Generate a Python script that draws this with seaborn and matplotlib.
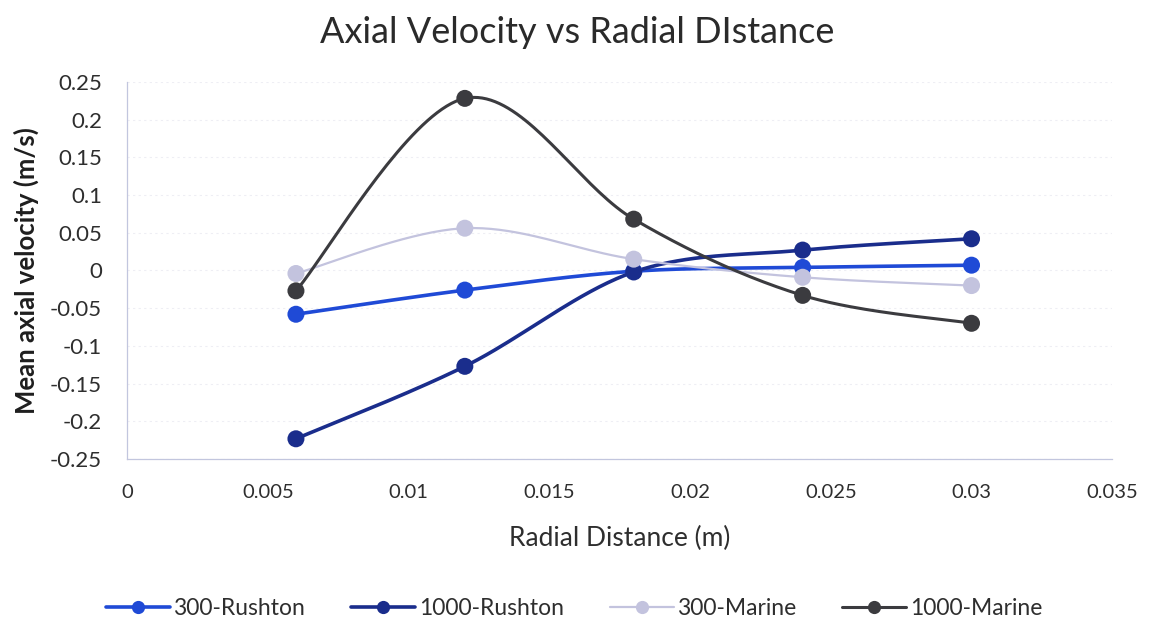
import numpy as np
import pandas as pd
import matplotlib
matplotlib.use("Agg")
import matplotlib.pyplot as plt
import seaborn as sns

# Radial positions (m) and mean axial velocities (m/s) per configuration
radial_distance = [0.006, 0.012, 0.018, 0.024, 0.030]
rushton_300 = [-0.058, -0.026, -0.001, 0.004, 0.007]
rushton_1000 = [-0.223, -0.127, -0.002, 0.027, 0.042]
marine_300 = [-0.004, 0.056, 0.015, -0.009, -0.020]
marine_1000 = [-0.027, 0.228, 0.068, -0.033, -0.070]

series_names = ["300-Rushton", "1000-Rushton", "300-Marine", "1000-Marine"]
series_values = [rushton_300, rushton_1000, marine_300, marine_1000]
series_colors = ["#1f4ad6", "#1a2d8c", "#c3c3de", "#3b3b3f"]
series_widths = [2.6, 2.6, 1.6, 2.2]

x_ticks = [0, 0.005, 0.01, 0.015, 0.02, 0.025, 0.03, 0.035]
x_tick_labels = ["0", "0.005", "0.01", "0.015", "0.02", "0.025", "0.03", "0.035"]
y_ticks = [-0.25, -0.2, -0.15, -0.1, -0.05, 0, 0.05, 0.1, 0.15, 0.2, 0.25]
y_tick_labels = ["-0.25", "-0.2", "-0.15", "-0.1", "-0.05", "0", "0.05",
                 "0.1", "0.15", "0.2", "0.25"]


def smooth_curve(xs, ys, steps=40):
    """Catmull-Rom curve through the points (spreadsheet-style smoothed line)."""
    px = np.asarray(xs, float)
    py = np.asarray(ys, float)
    px_ext = np.concatenate([[px[0]], px, [px[-1]]])
    py_ext = np.concatenate([[py[0]], py, [py[-1]]])
    out_x, out_y = [], []
    t = np.linspace(0, 1, steps)
    for i in range(1, len(px_ext) - 2):
        p0x, p1x, p2x, p3x = px_ext[i - 1:i + 3]
        p0y, p1y, p2y, p3y = py_ext[i - 1:i + 3]
        c1x, c1y = p1x + (p2x - p0x) / 6, p1y + (p2y - p0y) / 6
        c2x, c2y = p2x - (p3x - p1x) / 6, p2y - (p3y - p1y) / 6
        bx = ((1 - t) ** 3) * p1x + 3 * ((1 - t) ** 2) * t * c1x + 3 * (1 - t) * t ** 2 * c2x + t ** 3 * p2x
        by = ((1 - t) ** 3) * p1y + 3 * ((1 - t) ** 2) * t * c1y + 3 * (1 - t) * t ** 2 * c2y + t ** 3 * p2y
        out_x.extend(bx)
        out_y.extend(by)
    return np.array(out_x), np.array(out_y)


sns.set_theme(style="white")
plt.rcParams["font.family"] = ["Lato", "DejaVu Sans"]

fig = plt.figure(figsize=(11.55, 6.29), dpi=100)
ax = fig.add_axes([0.110, 0.270, 0.853, 0.600])

points = pd.DataFrame({
    "r": np.tile(radial_distance, len(series_names)),
    "v": np.concatenate(series_values),
    "series": np.repeat(series_names, len(radial_distance)),
})

for name, vals, col, lw in zip(series_names, series_values, series_colors, series_widths):
    cx, cy = smooth_curve(radial_distance, vals)
    sns.lineplot(x=cx, y=cy, sort=False, estimator=None, color=col, lw=lw,
                 ax=ax, legend=False)

palette = dict(zip(series_names, series_colors))
sns.scatterplot(data=points, x="r", y="v", hue="series", palette=palette,
                s=150, edgecolor="none", ax=ax, legend=False, zorder=5)

ax.set_xlim(0, 0.035)
ax.set_ylim(-0.25, 0.25)
ax.set_xticks(x_ticks)
ax.set_xticklabels(x_tick_labels)
ax.set_yticks(y_ticks)
ax.set_yticklabels(y_tick_labels)
ax.tick_params(axis="x", length=0, labelsize=14.5, labelcolor="#2e2e2e", pad=18)
ax.tick_params(axis="y", length=0, labelsize=16, labelcolor="#2e2e2e", pad=18)

ax.grid(axis="y", color="#eeeef4", lw=0.8, ls=(0, (2, 3)))
for side in ["top", "right"]:
    ax.spines[side].set_visible(False)
for side in ["left", "bottom"]:
    ax.spines[side].set_color("#c2c6de")
    ax.spines[side].set_linewidth(0.9)

ax.set_xlabel("Radial Distance (m)", fontsize=19, color="#2e2e2e", labelpad=18)
ax.set_ylabel("Mean axial velocity (m/s)", fontsize=18.5, color="#1e1e1e",
              fontweight="bold", labelpad=8)
fig.suptitle("Axial Velocity vs Radial DIstance", fontsize=26, color="#2a2a2a",
             y=0.975)

handles = [plt.Line2D([0], [0], color=c, lw=lw, marker="o", markersize=9.5,
                      markeredgecolor="none")
           for c, lw in zip(series_colors, series_widths)]
fig.legend(handles, series_names, loc="center", bbox_to_anchor=(0.497, 0.032),
           ncol=4, frameon=False, fontsize=16.5, handlelength=2.8,
           columnspacing=2.0, handletextpad=0.15, labelcolor="#2e2e2e")

fig.savefig("out.png", dpi=100, facecolor="white")
